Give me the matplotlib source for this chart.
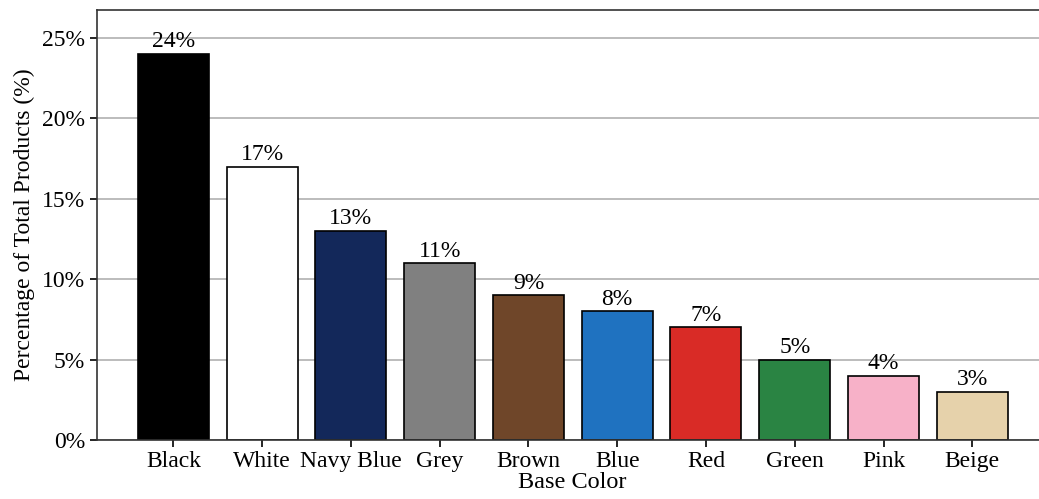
import matplotlib.pyplot as plt
from matplotlib.ticker import FuncFormatter

# share of products per base colour
colors = ["Black", "White", "Navy Blue", "Grey", "Brown", "Blue", "Red", "Green", "Pink", "Beige"]
shares = [24, 17, 13, 11, 9, 8, 7, 5, 4, 3]
fills = ["#000000", "#ffffff", "#13285a", "#808080", "#6f4629",
         "#1f72c0", "#d92b26", "#2a8443", "#f7b1c8", "#e6d2ab"]

plt.rcParams['font.family'] = ['Liberation Serif', 'DejaVu Serif']

fig = plt.figure(figsize=(10.39, 4.99), dpi=100)
ax = fig.add_axes([0.0934, 0.1182, 0.915, 0.862])

ax.grid(True, axis="y", color="#b0b0b0", linewidth=1.2)
ax.set_axisbelow(True)
bars = ax.bar(range(len(colors)), shares, width=0.8, color=fills, edgecolor="black", linewidth=1.2)

for rect, val in zip(bars, shares):
    ax.text(rect.get_x() + rect.get_width() / 2, val + 0.1, f"{val}%",
            ha="center", va="bottom", fontsize=17)

ax.set_xlim(-0.86, 9.85)
ax.set_ylim(0, 26.75)
ax.set_yticks([0, 5, 10, 15, 20, 25])
ax.yaxis.set_major_formatter(FuncFormatter(lambda v, _: f"{v:.0f}%"))
ax.set_xticks(range(len(colors)))
ax.set_xticklabels(colors)
ax.tick_params(axis="both", labelsize=17, length=5, width=1.2)
ax.tick_params(axis="x", pad=3)

for side in ["left", "bottom", "top", "right"]:
    ax.spines[side].set_linewidth(1.2)
    ax.spines[side].set_color("#333333")

ax.set_xlabel("Base Color", fontsize=17.5, labelpad=0)
ax.set_ylabel("Percentage of Total Products (%)", fontsize=17, labelpad=5)

fig.savefig("out.png", dpi=100)
